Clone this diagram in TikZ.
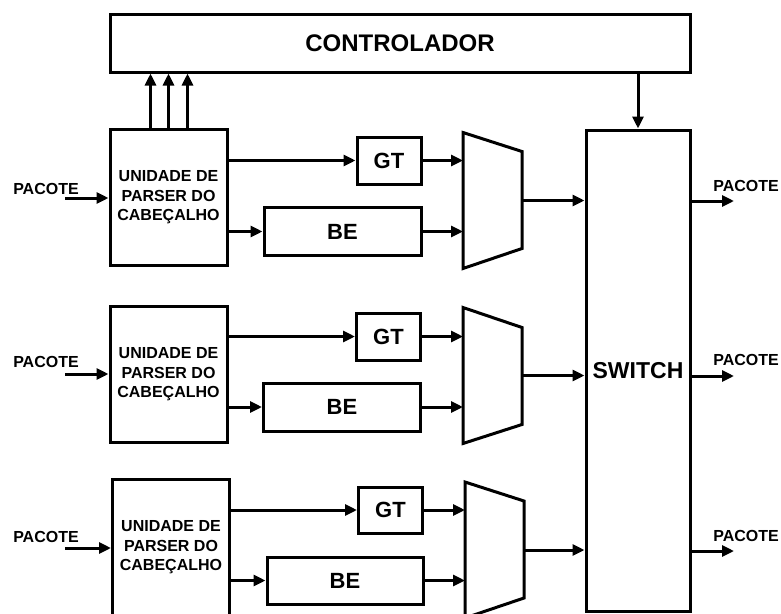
\documentclass[tikz,border=0pt]{standalone}
\usepackage{fontspec}
\setmainfont{Liberation Sans}
\usetikzlibrary{arrows.meta}
\begin{document}
\begin{tikzpicture}[
  x=1pt, y=-1pt,
  blockbox/.style={rectangle, draw, line width=3pt, inner sep=0pt,
    minimum width=#1, font=\bfseries\fontsize{22}{24}\selectfont},
  blockbox/.default=64pt,
  parserbox/.style={rectangle, draw, line width=3pt, inner sep=0pt,
    minimum width=117pt, minimum height=136pt, align=center,
    font=\bfseries\fontsize{16}{19.5}\selectfont},
  muxbox/.style={rectangle, inner sep=0pt, outer sep=0pt,
    minimum width=59pt, minimum height=136pt},
  muxline/.style={line width=3pt, line join=miter},
  lbl/.style={font=\bfseries\fontsize{16}{18}\selectfont, inner sep=0pt},
  arr/.style={-{Triangle[length=12pt, width=11pt]}, line width=3pt}
]
\clip (0,0) rectangle (781,613);

% Controller and switch
\node[blockbox=580pt, minimum height=58pt, font=\bfseries\fontsize{24}{26}\selectfont]
  (ctrl) at (400,43) {CONTROLADOR};
\node[blockbox=104pt, minimum height=481pt, font=\bfseries\fontsize{23}{25}\selectfont]
  (sw) at (638,370.5) {SWITCH};

% Row 1
\node[parserbox] (p1) at (168.5,197.5) {UNIDADE DE\\PARSER DO\\CABEÇALHO};
\node[blockbox, minimum height=47pt] (gt1) at (389,160.5) {GT};
\node[blockbox=157pt, minimum height=48pt] (be1) at (342.5,231.5) {BE};
\node[muxbox] (mux1) at (492.5,200.5) {};
\draw[muxline] (mux1.north west) -- ([yshift=-19pt]mux1.north east)
  -- ([yshift=20pt]mux1.south east) -- (mux1.south west) -- cycle;

% Row 2
\node[parserbox] (p2) at (168.5,374.5) {UNIDADE DE\\PARSER DO\\CABEÇALHO};
\node[blockbox, minimum height=47pt] (gt2) at (388.5,336.5) {GT};
\node[blockbox=157pt, minimum height=48pt] (be2) at (342,407) {BE};
\node[muxbox] (mux2) at (492.5,375.5) {};
\draw[muxline] (mux2.north west) -- ([yshift=-20pt]mux2.north east)
  -- ([yshift=19pt]mux2.south east) -- (mux2.south west) -- cycle;

% Row 3 (runs past the bottom edge)
\node[parserbox] (p3) at (171,547.5) {UNIDADE DE\\PARSER DO\\CABEÇALHO};
\node[blockbox, minimum height=46pt] (gt3) at (390.5,510) {GT};
\node[blockbox=156pt, minimum height=47pt] (be3) at (345,580.5) {BE};
\node[muxbox] (mux3) at (494.5,550) {};
\draw[muxline] (mux3.north west) -- ([yshift=-19pt]mux3.north east)
  -- ([yshift=20pt]mux3.south east) -- (mux3.south west) -- cycle;

% Input and output labels
\node[lbl] (lin1) at (46,189) {PACOTE};
\node[lbl] (lin2) at (46,362) {PACOTE};
\node[lbl] (lin3) at (46,537) {PACOTE};
\node[lbl] (lout1) at (746,186) {PACOTE};
\node[lbl] (lout2) at (746,360) {PACOTE};
\node[lbl] (lout3) at (746,536) {PACOTE};
\coordinate (in1) at (65,198);
\coordinate (in2) at (65,374);
\coordinate (in3) at (65,548);
\coordinate (out1) at (734,201);
\coordinate (out2) at (734,376);
\coordinate (out3) at (734,551);

% Arrows: parser -> controller, controller -> switch
\draw[arr] ([xshift=-18pt]p1.north) -- ([xshift=-18pt]p1.north |- ctrl.south);
\draw[arr] (p1.north) -- (p1.north |- ctrl.south);
\draw[arr] ([xshift=19pt]p1.north) -- ([xshift=19pt]p1.north |- ctrl.south);
\draw[arr] (sw.north |- ctrl.south) -- (sw.north);

% Arrows: inputs -> parsers
\draw[arr] (in1) -- (in1 -| p1.west);
\draw[arr] (in2) -- (in2 -| p2.west);
\draw[arr] (in3) -- (in3 -| p3.west);

% Arrows: parsers -> GT / BE
\draw[arr] (p1.east |- gt1.west) -- (gt1.west);
\draw[arr] (p1.east |- be1.west) -- (be1.west);
\draw[arr] (p2.east |- gt2.west) -- (gt2.west);
\draw[arr] (p2.east |- be2.west) -- (be2.west);
\draw[arr] (p3.east |- gt3.west) -- (gt3.west);
\draw[arr] (p3.east |- be3.west) -- (be3.west);

% Arrows: GT / BE -> mux
\draw[arr] (gt1.east) -- (gt1.east -| mux1.west);
\draw[arr] (be1.east) -- (be1.east -| mux1.west);
\draw[arr] (gt2.east) -- (gt2.east -| mux2.west);
\draw[arr] (be2.east) -- (be2.east -| mux2.west);
\draw[arr] (gt3.east) -- (gt3.east -| mux3.west);
\draw[arr] (be3.east) -- (be3.east -| mux3.west);

% Arrows: mux -> switch -> outputs
\draw[arr] (mux1.east) -- (mux1.east -| sw.west);
\draw[arr] (mux2.east) -- (mux2.east -| sw.west);
\draw[arr] (mux3.east) -- (mux3.east -| sw.west);
\draw[arr] (out1 -| sw.east) -- (out1);
\draw[arr] (out2 -| sw.east) -- (out2);
\draw[arr] (out3 -| sw.east) -- (out3);

\end{tikzpicture}
\end{document}
